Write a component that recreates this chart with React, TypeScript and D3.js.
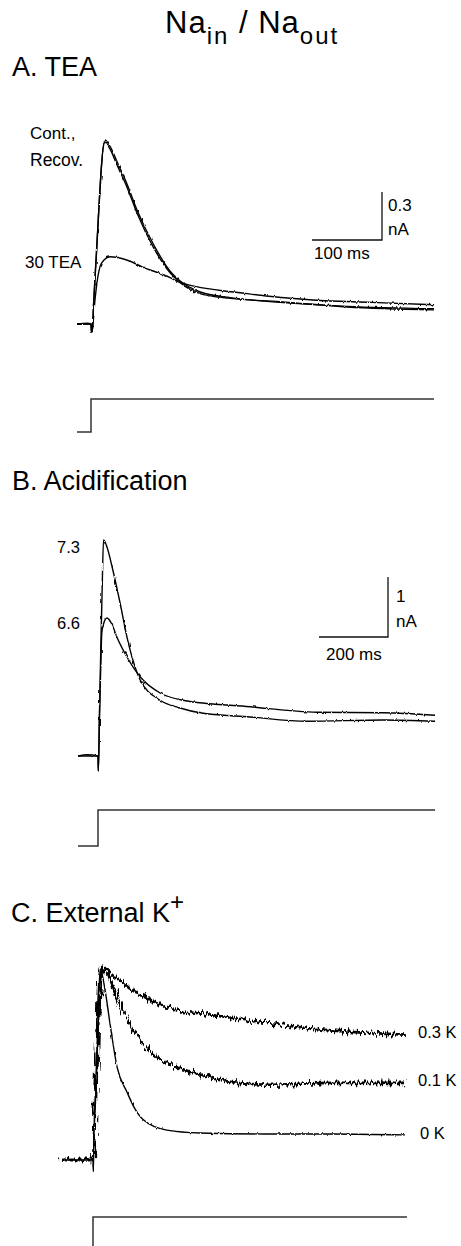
import React from 'react';
import * as d3 from 'd3';

// ---------- Panel A: TEA (time in ms, current in nA) ----------
const tContA = [-20, -5, 0, 1, 2, 4, 8, 12, 15, 19, 25, 38.6, 51, 66, 89, 113, 127, 156, 199, 270, 366, 490];
const iContA = [0, 0.005, 0, -0.05, -0.03, 0.15, 0.46, 0.78, 0.99, 1.14, 1.11, 0.98, 0.86, 0.69, 0.48, 0.32, 0.26, 0.19, 0.16, 0.14, 0.106, 0.088];
const tRecovA = [-20, 0, 1, 2, 4, 8, 12, 15, 20, 26, 38.6, 51, 66, 89, 113, 127, 156, 199, 270, 366, 490];
const iRecovA = [0, 0, -0.05, -0.03, 0.15, 0.46, 0.78, 0.99, 1.15, 1.12, 1.0, 0.88, 0.71, 0.5, 0.33, 0.27, 0.2, 0.165, 0.135, 0.11, 0.095];
const tTeaA = [-20, 0, 1, 2, 5.7, 8.6, 13, 18.6, 27, 51, 74, 113, 127, 223, 317, 400, 490];
const iTeaA = [0, 0, -0.05, -0.03, 0.15, 0.26, 0.36, 0.4, 0.42, 0.4, 0.356, 0.29, 0.26, 0.19, 0.15, 0.135, 0.12];

// ---------- Panel B: Acidification (time in ms, current in nA) ----------
const tPh73 = [-58, -30, 0, 1, 4, 8, 12, 16, 25, 43, 64, 84, 122, 180, 238, 296, 441, 606, 826, 977];
const iPh73 = [0, 0.02, 0, -0.25, 0.6, 1.77, 2.77, 3.6, 3.5, 3.1, 2.55, 1.98, 1.27, 0.93, 0.8, 0.72, 0.65, 0.58, 0.6, 0.58];
const tPh66 = [-58, 0, 1, 4, 8, 11, 16, 26, 40, 55, 84, 122, 180, 246, 441, 635, 826, 977];
const iPh66 = [0, 0, -0.25, 0.6, 1.5, 2.05, 2.2, 2.3, 2.2, 1.98, 1.65, 1.32, 1.05, 0.93, 0.82, 0.73, 0.72, 0.68];

// ---------- Panel C: External K+ (time in ms, normalized current) ----------
const tK0 = [-90, 0, 1, 3, 8, 14, 18, 21, 35, 49, 70, 99, 120, 145, 214, 310, 500, 700, 904];
const iK0 = [0, 0, -0.06, 0.15, 0.4, 0.7, 0.9, 0.99, 0.88, 0.71, 0.48, 0.35, 0.27, 0.21, 0.155, 0.14, 0.135, 0.135, 0.13];
const tK01 = [-90, 0, 1, 3, 8, 14, 20, 26, 30, 70, 99, 136, 186, 261, 310, 504, 696, 904];
const iK01 = [0, 0, -0.06, 0.1, 0.3, 0.55, 0.85, 0.97, 0.99, 0.84, 0.74, 0.62, 0.53, 0.47, 0.44, 0.39, 0.4, 0.4];
const tK03 = [-90, 0, 1, 3, 8, 14, 19, 22, 55, 99, 165, 261, 310, 504, 696, 904];
const iK03 = [0, 0, -0.06, 0.12, 0.38, 0.7, 0.95, 1.0, 0.97, 0.9, 0.83, 0.77, 0.76, 0.71, 0.67, 0.65];

// ---------- Voltage command steps (0 = holding, 1 = test) ----------
const tCmdA = [-20, 0, 0, 490];
const tCmdB = [-58, 0, 0, 977];
const tCmdC = [-90, 0, 0, 910];
const vCmd = [0, 0, 1, 1];

const FONT = '"Liberation Sans", Arial, Helvetica, sans-serif';

type Pt = [number, number];
const zip = (t: number[], v: number[]): Pt[] => t.map((d, i) => [d, v[i]]);

export default function App() {
  const xA = d3.scaleLinear().domain([0, 100]).range([91, 161]);
  const yA = d3.scaleLinear().domain([0, 0.3]).range([324, 276]);
  const yCmdA = d3.scaleLinear().domain([0, 1]).range([432, 399]);

  const xB = d3.scaleLinear().domain([0, 200]).range([98, 167]);
  const yB = d3.scaleLinear().domain([0, 1]).range([756, 696]);
  const yCmdB = d3.scaleLinear().domain([0, 1]).range([846, 810]);

  const xC = d3.scaleLinear().domain([0, 200]).range([93, 162]);
  const yC = d3.scaleLinear().domain([0, 1]).range([1160, 967]);
  const yCmdC = d3.scaleLinear().domain([0, 1]).range([1262, 1217]);

  const mk = (x: d3.ScaleLinear<number, number>, y: d3.ScaleLinear<number, number>) =>
    d3.line<Pt>().x(d => x(d[0])).y(d => y(d[1])).curve(d3.curveMonotoneX);
  const lin = (x: d3.ScaleLinear<number, number>, y: d3.ScaleLinear<number, number>) =>
    d3.line<Pt>().x(d => x(d[0])).y(d => y(d[1]));

  const lA = mk(xA, yA);
  const lB = mk(xB, yB);
  const lC = mk(xC, yC);

  const trace = { fill: 'none', stroke: '#000', strokeWidth: 1.4, strokeLinejoin: 'round' as const };
  const cmd = { fill: 'none', stroke: '#333', strokeWidth: 1.5 };
  const bar = { fill: 'none', stroke: '#111', strokeWidth: 1.3 };

  const sbAx = 382, sbAy = 240;
  const sbAw = xA(100) - xA(0);
  const sbAh = yA(0) - yA(0.3);
  const sbBx = 388, sbBy = 637;
  const sbBw = xB(200) - xB(0);
  const sbBh = yB(0) - yB(1);

  return (
    <svg width={461} height={1246} style={{ position: 'absolute', left: 0, top: 0, background: '#fff' }}
      fontFamily={FONT}>
      <defs>
        <filter id="noiseBig" filterUnits="userSpaceOnUse" x={0} y={0} width={461} height={1246}>
          <feTurbulence type="fractalNoise" baseFrequency="0.45 0.06" numOctaves={2} seed={3} result="n" />
          <feDisplacementMap in="SourceGraphic" in2="n" scale={11} xChannelSelector="R" yChannelSelector="G" />
        </filter>
        <filter id="noiseSmall" filterUnits="userSpaceOnUse" x={0} y={0} width={461} height={1246}>
          <feTurbulence type="fractalNoise" baseFrequency="0.5 0.1" numOctaves={2} seed={7} result="n" />
          <feDisplacementMap in="SourceGraphic" in2="n" scale={2.5} xChannelSelector="R" yChannelSelector="G" />
        </filter>
      </defs>
      <rect x={0} y={0} width={461} height={1246} fill="#fff" />

      {/* Title */}
      <text x={165} y={33} fontSize={31} letterSpacing={1} fill="#000">
        Na<tspan fontSize={24} dy={11} letterSpacing={2}>in</tspan>
        <tspan dy={-11} fontSize={31}> / Na</tspan>
        <tspan fontSize={24} dy={11} letterSpacing={2}>out</tspan>
      </text>

      {/* ===== Panel A ===== */}
      <text x={12} y={76} fontSize={27}>A. TEA</text>
      <text x={30} y={139} fontSize={17}>Cont.,</text>
      <text x={30} y={166} fontSize={17.5}>Recov.</text>
      <text x={25} y={268} fontSize={17}>30 TEA</text>

      <path d={lA(zip(tContA, iContA)) || ''} {...trace} filter="url(#noiseSmall)" />
      <path d={lA(zip(tRecovA, iRecovA)) || ''} {...trace} filter="url(#noiseSmall)" />
      <path d={lA(zip(tTeaA, iTeaA)) || ''} {...trace} filter="url(#noiseSmall)" />
      <path d={lin(xA, yCmdA)(zip(tCmdA, vCmd)) || ''} {...cmd} />

      <path d={`M${sbAx - sbAw},${sbAy}H${sbAx}V${sbAy - sbAh}`} {...bar} />
      <text x={388} y={211} fontSize={17}>0.3</text>
      <text x={388} y={235} fontSize={17}>nA</text>
      <text x={314} y={259} fontSize={17}>100 ms</text>

      {/* ===== Panel B ===== */}
      <text x={12} y={490} fontSize={27}>B. Acidification</text>
      <text x={57} y={553} fontSize={16.5}>7.3</text>
      <text x={57} y={629} fontSize={16.5}>6.6</text>

      <path d={lB(zip(tPh73, iPh73)) || ''} {...trace} filter="url(#noiseSmall)" />
      <path d={lB(zip(tPh66, iPh66)) || ''} {...trace} filter="url(#noiseSmall)" />
      <path d={lin(xB, yCmdB)(zip(tCmdB, vCmd)) || ''} {...cmd} />

      <path d={`M${sbBx - sbBw},${sbBy}H${sbBx}V${sbBy - sbBh}`} {...bar} />
      <text x={396} y={602} fontSize={17}>1</text>
      <text x={396} y={627} fontSize={17}>nA</text>
      <text x={326} y={660} fontSize={17}>200 ms</text>

      {/* ===== Panel C ===== */}
      <text x={11} y={922} fontSize={27}>C. External K<tspan fontSize={24} dy={-12}>+</tspan></text>

      <path d={lC(zip(tK03, iK03)) || ''} {...trace} strokeWidth={2.7} filter="url(#noiseBig)" />
      <path d={lC(zip(tK01, iK01)) || ''} {...trace} strokeWidth={2.7} filter="url(#noiseBig)" />
      <path d={lC(zip(tK0, iK0)) || ''} {...trace} filter="url(#noiseSmall)" />
      <path d={lin(xC, yCmdC)(zip(tCmdC, vCmd)) || ''} {...cmd} />

      <text x={418} y={1038} fontSize={16.5}>0.3 K</text>
      <text x={418} y={1086} fontSize={16.5}>0.1 K</text>
      <text x={420} y={1139} fontSize={16.5}>0 K</text>
    </svg>
  );
}
